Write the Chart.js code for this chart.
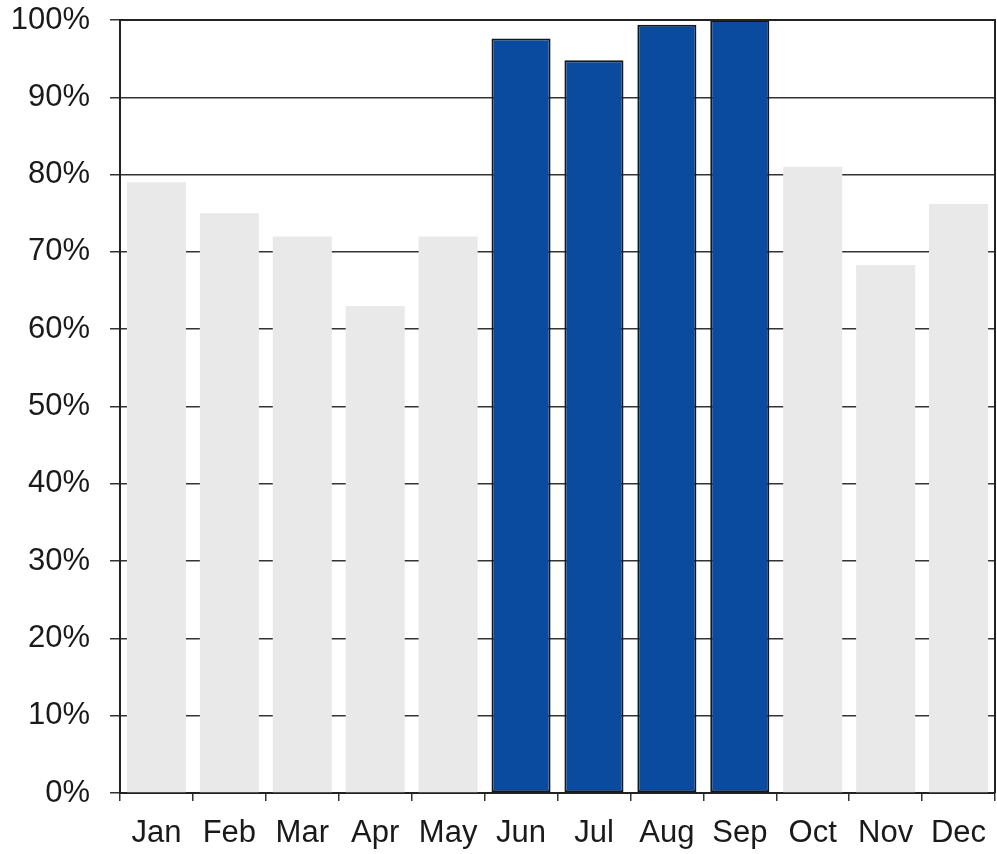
<!DOCTYPE html>
<html>
<head>
<meta charset="utf-8">
<script src="https://cdn.jsdelivr.net/npm/chart.js@4/dist/chart.umd.min.js"></script>
<style>
  html, body { margin: 0; padding: 0; background: #fff; }
  #wrap { width: 997px; height: 854px; }
</style>
</head>
<body>
<div id="wrap"><canvas id="c" width="997" height="854"></canvas></div>
<script>
// Monthly share, in percent
const months = ['Jan','Feb','Mar','Apr','May','Jun','Jul','Aug','Sep','Oct','Nov','Dec'];
const share = [79, 75, 72, 63, 72, 97.6, 94.8, 99.4, 100, 81, 68.3, 76.2];
// Summer months are highlighted
const highlighted = ['Jun','Jul','Aug','Sep'];
const yTicks = [0,10,20,30,40,50,60,70,80,90,100];

const GREY = '#e9e9e9';
const BLUE = '#0a4ba0';
const FONT = { family: 'Liberation Sans, Arial', size: 31 };

// Outline around the plotting area
const frame = {
  id: 'frame',
  afterDatasetsDraw(chart) {
    const a = chart.chartArea, ctx = chart.ctx;
    ctx.save();
    ctx.strokeStyle = '#222';
    ctx.lineWidth = 2;
    ctx.beginPath();
    ctx.moveTo(a.left, a.top);
    ctx.lineTo(a.right, a.top);
    ctx.lineTo(a.right, a.bottom);
    ctx.stroke();
    ctx.restore();
  }
};

new Chart(document.getElementById('c'), {
  type: 'bar',
  data: {
    labels: months,
    datasets: [{
      data: share,
      backgroundColor: months.map(m => highlighted.includes(m) ? BLUE : GREY),
      borderColor: months.map(m => highlighted.includes(m) ? '#101820' : GREY),
      borderWidth: months.map(m => highlighted.includes(m) ? 2 : 0),
      borderSkipped: false,
      barPercentage: 0.81,
      categoryPercentage: 1
    }]
  },
  options: {
    responsive: false,
    animation: false,
    layout: { padding: { top: 20, right: 2, left: 0, bottom: 0 } },
    plugins: { legend: { display: false }, tooltip: { enabled: false } },
    scales: {
      x: {
        grid: { display: true, drawOnChartArea: false, offset: true, tickLength: 8, color: '#333', lineWidth: 1.5 },
        border: { display: true, color: '#222', width: 2 },
        ticks: { color: '#1a1a1a', font: FONT, padding: 14, maxRotation: 0, autoSkip: false },
        afterFit(s) { s.height = 61; s.paddingLeft = 0; s.paddingRight = 0; }
      },
      y: {
        min: 0, max: 100,
        afterBuildTicks(s) { s.ticks = yTicks.map(v => ({ value: v })); },
        grid: { color: '#333', lineWidth: 1.5, tickLength: 10 },
        border: { display: true, color: '#222', width: 2 },
        ticks: { color: '#1a1a1a', font: FONT, padding: 20, callback: v => v + '%' },
        afterFit(s) { s.width = 120; s.paddingTop = 0; s.paddingBottom = 0; }
      }
    }
  },
  plugins: [frame]
});
</script>
</body>
</html>
